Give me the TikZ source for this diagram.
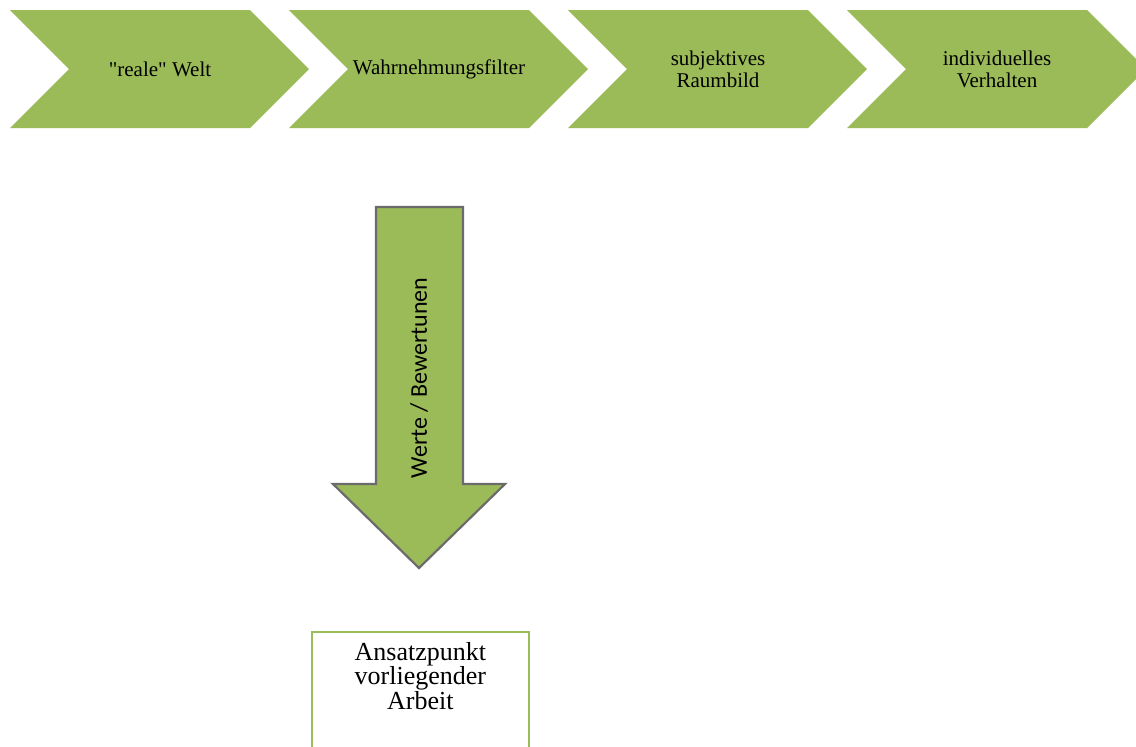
\documentclass[tikz,border=0pt]{standalone}
\usepackage{fontspec}
\setmainfont{Liberation Serif}
\newfontfamily\mysansfont{Carlito}
\usetikzlibrary{positioning}
\usetikzlibrary{calc}
\definecolor{myolive}{HTML}{9BBB59}
\definecolor{mygray}{HTML}{6B6B6B}
\tikzstyle{mychevron}=[fill=myolive]
\tikzstyle{mylabel}=[inner sep=0pt,align=center,font=\fontsize{10.5}{11}\selectfont]
\tikzstyle{mybigarrow}=[draw=mygray,fill=myolive,line width=1.1,line join=miter]
\tikzstyle{myarrowtext}=[inner sep=0pt,rotate=90,font=\mysansfont\fontsize{12}{14}\selectfont]
\tikzstyle{mybox}=[draw=myolive,line width=0.9,inner sep=0pt,anchor=north west]
\tikzstyle{myboxtext}=[inner sep=0pt,align=center,font=\fontsize{13}{12.2}\selectfont]

\begin{document}
\begin{tikzpicture}[x=0.5pt,y=-0.5pt]
  \useasboundingbox (0,0) rectangle (1136,746);
  \clip (0,0) rectangle (1136,746);
  \def\d{279} % distance between two chevrons

  % CHEVRONS
  \foreach \i/\txt in {0/{\textquotedbl reale\textquotedbl{} Welt},1/{Wahrnehmungsfilter},
                       2/{subjektives\\Raumbild},3/{individuelles\\Verhalten}}{
    \fill[mychevron] (10+\i*\d,10) -- ++(240,0) -- ++(59,59) -- ++(-59,59)
      -- ++(-240,0) -- ++(59,-59) -- cycle;
    \node[mylabel] (c\i) at (160+\i*\d,69) {\txt};
  }

  % ARROW
  \draw[mybigarrow] (376,207) -- (463,207) -- (463,484) -- (505,484)
    -- (419,568) -- (333,484) -- (376,484) -- cycle;
  \node[myarrowtext] (values) at (419,378) {Werte / Bewertunen};

  % BOX
  \node[mybox,minimum width=108.5pt,minimum height=90pt] (box) at (311,631) {};
  \node[myboxtext,below=5.5pt of box.north] (boxtext) {Ansatzpunkt\\vorliegender\\Arbeit};

\end{tikzpicture}
\end{document}
